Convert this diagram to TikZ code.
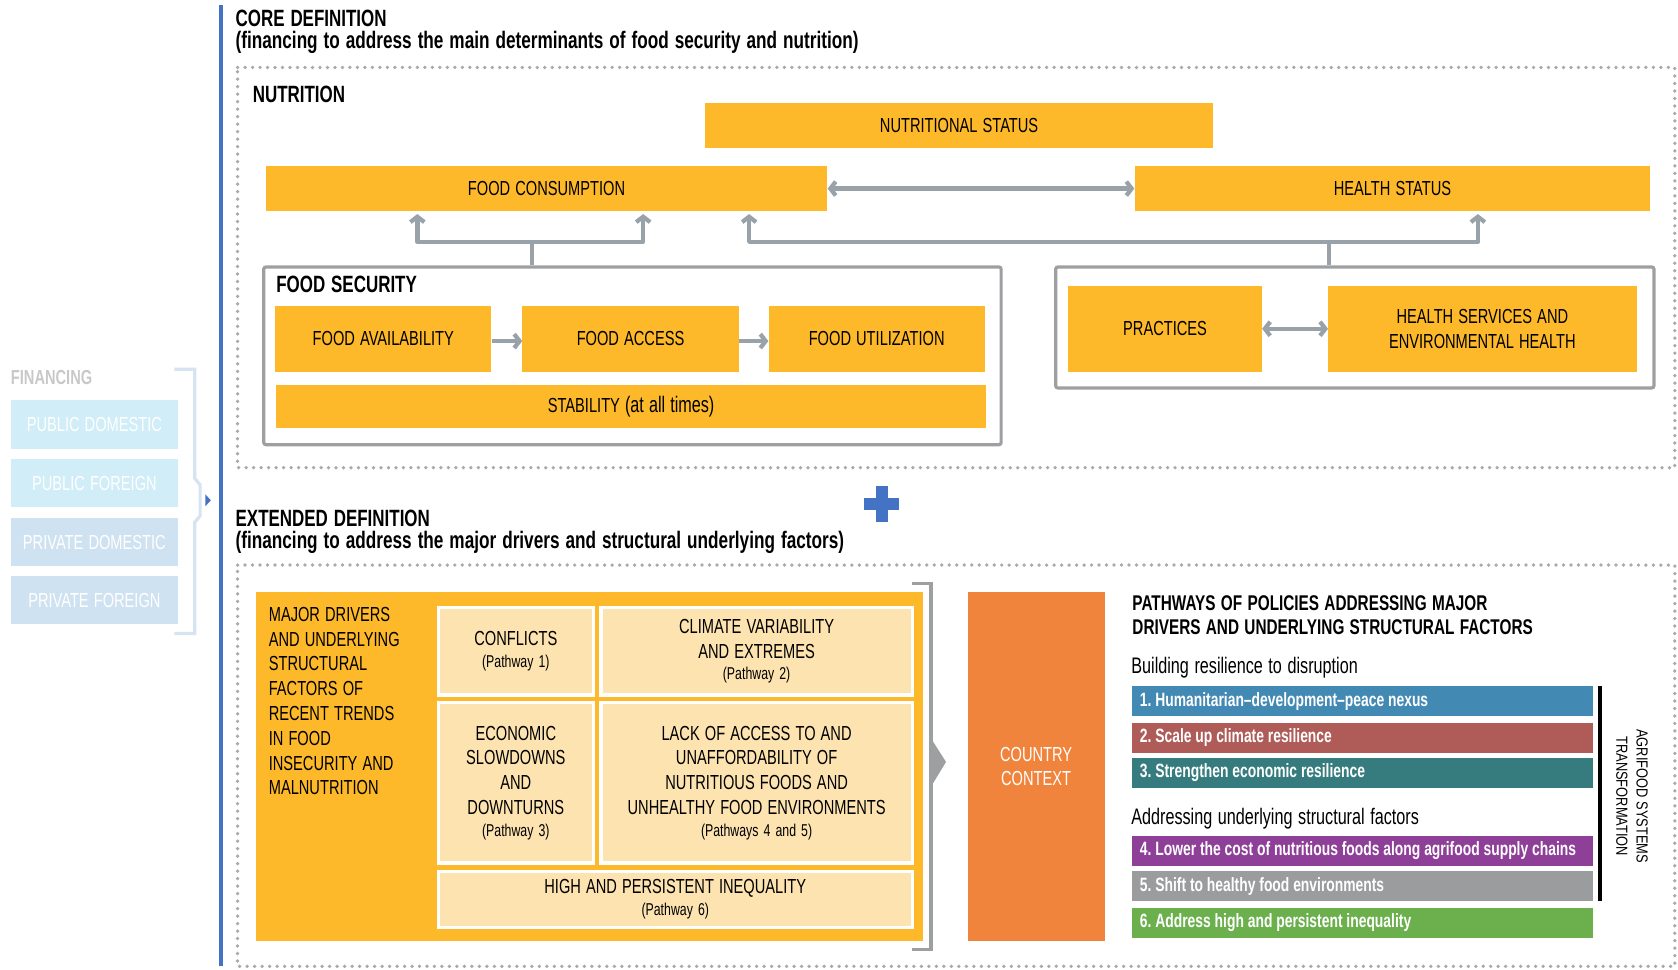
\documentclass[tikz,border=0pt]{standalone}
\usepackage{fontspec}
\setmainfont{Liberation Sans}[FakeStretch=0.72]
\newfontfamily\rotfont{Liberation Sans}[FakeStretch=0.8]
\usetikzlibrary{arrows.meta}
\definecolor{ylw}{HTML}{FDB92A}
\definecolor{pale}{HTML}{FDE3B0}
\definecolor{garr}{HTML}{98A2A8}
\definecolor{boxgray}{HTML}{9D9FA1}
\definecolor{dotgray}{HTML}{A8AAAD}
\definecolor{myblue}{HTML}{4472C4}
\definecolor{finA}{HTML}{D0EDF8}
\definecolor{finB}{HTML}{CFE2F1}
\definecolor{fintxt}{HTML}{C8C8C8}
\definecolor{brk}{HTML}{D6E3F1}
\definecolor{orng}{HTML}{F0843C}
\definecolor{cA}{HTML}{4289B4}
\definecolor{cB}{HTML}{AF5B57}
\definecolor{cC}{HTML}{367C7E}
\definecolor{cD}{HTML}{8E3F98}
\definecolor{cE}{HTML}{9A9C9E}
\definecolor{cF}{HTML}{6BB04D}
\newcommand\headT{\fontsize{22}{25}\selectfont\bfseries}
\newcommand\boxT{\fontsize{19}{23.2}\selectfont}
\newcommand\lowT{\fontsize{21}{24}\selectfont}
\newcommand\smallT{\fontsize{16}{18}\selectfont}
\newcommand\barT{\fontsize{18}{20}\selectfont\bfseries}
\newcommand\narrowsp{\spaceskip=.25em plus .1em minus .05em\relax}
\newcommand\barsp{\spaceskip=.2em plus .1em minus .05em\relax}
\frenchspacing
\begin{document}
\frenchspacing
\begin{tikzpicture}[x=1pt,y=-1pt,
  every node/.style={execute at begin node=\narrowsp},
  sz/.style 2 args={minimum width=#1pt, minimum height=#2pt},
  ybox/.style={fill=ylw, anchor=north west, inner sep=0pt, align=center, font=\boxT, text=black},
  pbox/.style={fill=pale, draw=white, line width=3pt, anchor=north west, inner sep=0pt, align=center, font=\boxT},
  gbox/.style={draw=boxgray, line width=3pt, rounded corners=2pt, anchor=north west, inner sep=0pt},
  finbox/.style={anchor=north west, inner sep=0pt, font=\boxT, text=white, sz={156}{45}},
  garrow/.style={draw=garr, line width=4pt},
  tip/.style={-{Straight Barb[length=5pt,width=13pt]}},
  dtip/.style={{Straight Barb[length=5pt,width=13pt]}-{Straight Barb[length=5pt,width=13pt]}},
  dots/.style={draw=dotgray, line width=3.5pt, line cap=round, dash pattern=on 0pt off 7pt},
  bar/.style={anchor=north west, minimum height=28pt, text width=416pt, inner xsep=7pt, inner ysep=0pt, align=left, text=white, font=\barT, execute at begin node=\barsp},
  head/.style={anchor=west, inner sep=0pt, font=\headT},
  sub/.style={anchor=west, inner sep=0pt, font=\fontsize{22.3}{25}\selectfont\bfseries}
]
\useasboundingbox (0,0) rectangle (1568,906);

% financing
\node[anchor=west, inner sep=0pt, font=\fontsize{19}{22}\selectfont\bfseries, text=fintxt] (finl) at (10,353) {FINANCING};
\node[finbox, fill=finA] (pd) at (10,374) {PUBLIC DOMESTIC};
\node[finbox, fill=finA] (pf) at (10,429) {PUBLIC FOREIGN};
\node[finbox, fill=finB] (prd) at (10,484) {PRIVATE DOMESTIC};
\node[finbox, fill=finB] (prf) at (10,538) {PRIVATE FOREIGN};
\draw[brk, line width=3pt] (163,345) -- (182,345) -- (182,447) -- (187,453) -- (187,482) -- (182,488) -- (182,592) -- (163,592);
\fill[myblue] (192,462) -- (197,467.5) -- (192,473) -- cycle;
\draw[myblue, line width=3pt] (206.5,5) -- (206.5,903);

% core definition
\node[head] (coret) at (220,17) {CORE DEFINITION};
\node[sub] (cores) at (220,40) {(financing to address the main determinants of food security and nutrition)};
\draw[dots] (222,63) -- (1565,63) -- (1565,437) -- (222,437) -- cycle;
\node[head] (nutl) at (236,88) {NUTRITION};

\node[ybox, sz={474}{42}] (ns) at (659,96) {NUTRITIONAL STATUS};
\node[ybox, sz={525}{42}] (fc) at (248,155) {FOOD CONSUMPTION};
\node[ybox, sz={482}{42}] (hs) at (1060,155) {HEALTH STATUS};
\draw[garrow, dtip] (fc.east) -- (hs.west);

\node[gbox, sz={689}{166}] (fsec) at (245,248) {};
\node[head] (fsl) at (258,266) {FOOD SECURITY};
\node[ybox, sz={202}{61}] (fa) at (257,286) {FOOD AVAILABILITY};
\node[ybox, sz={202}{61}] (fac) at (488,286) {FOOD ACCESS};
\node[ybox, sz={202}{61}] (fu) at (718,286) {FOOD UTILIZATION};
\node[ybox, sz={663}{40}] (stab) at (258,360) {STABILITY {\lowT(at all times)}};
\draw[garrow, tip] ([yshift=-2pt]fa.east) -- ([yshift=-2pt]fac.west);
\draw[garrow, tip] ([yshift=-2pt]fac.east) -- ([yshift=-2pt]fu.west);

\node[gbox, sz={559}{113}] (hbox) at (985,248) {};
\node[ybox, sz={181}{80}] (pr) at (998,267) {PRACTICES};
\node[ybox, sz={288}{80}] (hsv) at (1241,267) {HEALTH SERVICES AND\\ENVIRONMENTAL HEALTH};
\draw[garrow, dtip] (pr.east) -- (hsv.west);

\coordinate (j1) at (497,226);
\coordinate (a1) at (390,200);
\coordinate (a2) at (601,200);
\coordinate (j2) at (1242,226);
\coordinate (a3) at (700,200);
\coordinate (a4) at (1381,200);
\draw[garrow] (j1 |- fsec.north) -- (j1);
\draw[garrow, tip, line join=round] (j1) -| (a1);
\draw[garrow, tip, line join=round] (j1) -| (a2);
\draw[garrow] (j2 |- hbox.north) -- (j2);
\draw[garrow, tip, line join=round] (j2) -| (a3);
\draw[garrow, tip, line join=round] (j2) -| (a4);

% plus
\fill[myblue] (807,465.5) rectangle (840,476.5);
\fill[myblue] (818.5,454) rectangle (829.5,488);

% extended definition
\node[head] (extt) at (220,484) {EXTENDED DEFINITION};
\node[sub] (exts) at (220,507) {(financing to address the major drivers and structural underlying factors)};
\draw[dots] (222,528) -- (1565,528) -- (1565,903) -- (222,903) -- cycle;

\node[ybox, sz={623}{326}] (md) at (239,553) {};
\node[anchor=north west, inner sep=0pt, align=left, font=\boxT] (mdt) at (251,567) {MAJOR DRIVERS\\AND UNDERLYING\\STRUCTURAL\\FACTORS OF\\RECENT TRENDS\\IN FOOD\\INSECURITY AND\\MALNUTRITION};
\node[pbox, sz={145}{82}] (cf) at (408,566) {CONFLICTS\\[-3pt]{\smallT (Pathway 1)}};
\node[pbox, sz={291}{82}] (cv) at (560,566) {CLIMATE VARIABILITY\\AND EXTREMES\\[-3pt]{\smallT (Pathway 2)}};
\node[pbox, sz={145}{150}] (ec) at (408,655) {ECONOMIC\\SLOWDOWNS\\AND\\DOWNTURNS\\[-3pt]{\smallT (Pathway 3)}};
\node[pbox, sz={291}{150}] (la) at (560,655) {LACK OF ACCESS TO AND\\UNAFFORDABILITY OF\\NUTRITIOUS FOODS AND\\UNHEALTHY FOOD ENVIRONMENTS\\[-3pt]{\smallT (Pathways 4 and 5)}};
\node[pbox, sz={443}{52}] (hi) at (408,813) {HIGH AND PERSISTENT INEQUALITY\\[-3pt]{\smallT (Pathway 6)}};
\draw[boxgray, line width=3pt] (852,545) -- (870,545) -- (870,887) -- (852,887);
\fill[boxgray] (870,690) -- (884,712) -- (870,735) -- cycle;

\node[ybox, fill=orng, text=white, sz={128}{326}] (cc) at (904,553) {COUNTRY\\CONTEXT};

\node[anchor=north west, inner sep=0pt, align=left, font=\fontsize{19.9}{23}\selectfont\bfseries] (ph) at (1058,556) {PATHWAYS OF POLICIES ADDRESSING MAJOR\\DRIVERS AND UNDERLYING STRUCTURAL FACTORS};
\node[anchor=west, inner sep=0pt, font=\lowT] (br) at (1057,624) {Building resilience to disruption};
\node[bar, fill=cA] (p1) at (1058,641) {1. Humanitarian–development–peace nexus};
\node[bar, fill=cB] (p2) at (1058,675) {2. Scale up climate resilience};
\node[bar, fill=cC] (p3) at (1058,708) {3. Strengthen economic resilience};
\node[anchor=west, inner sep=0pt, font=\lowT] (au) at (1057,765) {Addressing underlying structural factors};
\node[bar, fill=cD] (p4) at (1058,781) {4. Lower the cost of nutritious foods along agrifood supply chains};
\node[bar, fill=cE] (p5) at (1058,814) {5. Shift to healthy food environments};
\node[bar, fill=cF] (p6) at (1058,848) {6. Address high and persistent inequality};
\draw[black, line width=3pt] (1495,641) -- (1495,842);
\node[rotate=-90, align=center, inner sep=0pt, font=\rotfont\fontsize{15}{19}\selectfont] (agri) at (1525,744) {AGRIFOOD SYSTEMS\\TRANSFORMATION};
\end{tikzpicture}
\end{document}
